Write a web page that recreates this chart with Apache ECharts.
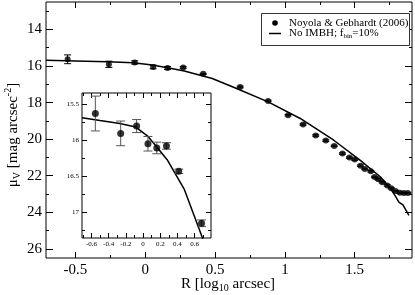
<!DOCTYPE html>
<html><head><meta charset="utf-8">
<script src="https://cdn.jsdelivr.net/npm/echarts@6/dist/echarts.min.js"></script>
<style>html,body{margin:0;padding:0;background:#fff}#c{width:415px;height:295px}</style>
</head><body><div id="c"></div>
<script>
// ---- data ----
const obsR   = [-0.555,-0.26,-0.075,0.057,0.16,0.272,0.415,0.68,0.88,1.023,1.13,1.221,1.293,1.353,1.412,1.462,1.5,1.541,1.572,1.615,1.642,1.668,1.697,1.733,1.761,1.792,1.823,1.852,1.88];
const obsMu  = [15.633,15.907,15.806,16.05,16.108,16.08,16.43,17.147,17.91,18.69,19.20,19.80,20.08,20.37,20.79,21.01,21.12,21.45,21.63,21.76,22.07,22.20,22.36,22.53,22.68,22.84,22.93,22.95,22.95];
const obsErr = [0.24,0.17,0.09,0.10,0.08,0.045,0.03,0.046,0.04,0.04,0.04,0.04,0.04,0.04,0.04,0.04,0.04,0.04,0.04,0.04,0.04,0.04,0.04,0.04,0.04,0.04,0.04,0.04,0.04];
const modelR  = [-0.71,-0.5,-0.27,-0.085,0.05,0.15,0.28,0.48,0.65,0.88,1.11,1.35,1.54,1.685,1.756,1.79,1.816,1.83,1.845,1.888];
const modelMu = [15.69,15.73,15.77,15.82,15.94,16.08,16.27,16.68,17.22,17.96,18.87,20.06,21.16,22.07,22.71,23.10,23.44,23.52,23.60,24.17];
const mainXTicks = [-0.5,0,0.5,1,1.5];
const mainXMinor = [-0.25,0.25,0.75,1.25,1.75];
const mainYTicks = [14,16,18,20,22,24,26];
const mainYMinor = [13,15,17,19,21,23,25];
const insetXTicks = [-0.6,-0.4,-0.2,0,0.2,0.4,0.6];
const insetXMinor = [-0.7,-0.5,-0.3,-0.1,0.1,0.3,0.5,0.7];
const insetYTicks = [15.5,16,16.5,17];
const insetYMinor = [15.75,16.25,16.75,17.25];

const SERIF = "'Liberation Serif','Times New Roman',serif";
const chart = echarts.init(document.getElementById('c'), null, {renderer:'canvas'});
const fmt = v => String(+(+v).toFixed(2));
const obsPts = obsR.map((r,i)=>[r,obsMu[i],obsErr[i]]);
const modelPts = modelR.map((r,i)=>[r,modelMu[i]]);

function ax(grid, pos, min, max, ticks, len, labels, fs, margin, zl, inverse){
  return {type:'value', gridIndex:grid, position:pos, min:min, max:max, inverse:!!inverse, zlevel:zl,
    axisLine:{show:false, onZero:false}, splitLine:{show:false},
    axisTick:{show:true, inside:true, length:len, customValues:ticks, lineStyle:{color:'#000',width:1}},
    axisLabel:{show:!!labels, customValues:ticks, formatter:fmt, color:'#000', fontFamily:SERIF, fontSize:fs, margin:margin}};
}
const xAxes = [
  ax(0,'bottom',-0.71,1.91,mainXTicks,6,true,15,5,0),
  ax(0,'bottom',-0.71,1.91,mainXMinor,3,false,15,5,0),
  ax(0,'top',-0.71,1.91,mainXTicks,6,false,15,5,0),
  ax(0,'top',-0.71,1.91,mainXMinor,3,false,15,5,0),
  ax(1,'bottom',-0.71,0.79,insetXTicks,5,true,7,3,1),
  ax(1,'bottom',-0.71,0.79,insetXMinor,3,false,7,3,1),
  ax(1,'top',-0.71,0.79,insetXTicks,5,false,7,3,1),
  ax(1,'top',-0.71,0.79,insetXMinor,3,false,7,3,1)
];
const yAxes = [
  ax(0,'left',12.5,26.5,mainYTicks,7,true,15,4,0,true),
  ax(0,'left',12.5,26.5,mainYMinor,3,false,15,4,0,true),
  ax(0,'right',12.5,26.5,mainYTicks,7,false,15,4,0,true),
  ax(0,'right',12.5,26.5,mainYMinor,3,false,15,4,0,true),
  ax(1,'left',15.35,17.35,insetYTicks,5,true,7,3,1,true),
  ax(1,'left',15.35,17.35,insetYMinor,3,false,7,3,1,true),
  ax(1,'right',15.35,17.35,insetYTicks,5,false,7,3,1,true),
  ax(1,'right',15.35,17.35,insetYMinor,3,false,7,3,1,true)
];

function errRender(capHalf, color){
  return function(params, api){
    const x = api.value(0), y = api.value(1), e = api.value(2);
    const t = api.coord([x, y - e]), b = api.coord([x, y + e]);
    const st = {stroke:color, lineWidth:1};
    return {type:'group', children:[
      {type:'line', shape:{x1:t[0],y1:t[1],x2:b[0],y2:b[1]}, style:st},
      {type:'line', shape:{x1:t[0]-capHalf,y1:t[1],x2:t[0]+capHalf,y2:t[1]}, style:st},
      {type:'line', shape:{x1:b[0]-capHalf,y1:b[1],x2:b[0]+capHalf,y2:b[1]}, style:st}
    ]};
  };
}

const option = {
  animation:false,
  backgroundColor:'#fff',
  grid:[
    {left:46, top:2, width:366, height:256, show:true, borderColor:'#000', borderWidth:1, backgroundColor:'transparent', zlevel:0},
    {left:82, top:93, width:129, height:145, show:true, borderColor:'#000', borderWidth:1, backgroundColor:'#fff', zlevel:1}
  ],
  xAxis:xAxes, yAxis:yAxes,
  series:[
    {type:'line', xAxisIndex:0, yAxisIndex:0, data:modelPts, showSymbol:false, lineStyle:{color:'#000',width:1.5}, zlevel:0, z:2},
    {type:'custom', xAxisIndex:0, yAxisIndex:0, data:obsPts, renderItem:errRender(3.5,'#000'), zlevel:0, z:3},
    {type:'scatter', xAxisIndex:0, yAxisIndex:0, data:obsPts, symbolSize:6, itemStyle:{color:'#000'}, zlevel:0, z:4},
    {type:'line', xAxisIndex:4, yAxisIndex:4, data:modelPts, showSymbol:false, lineStyle:{color:'#000',width:1.5}, zlevel:1, z:5, clip:true},
    {type:'custom', xAxisIndex:4, yAxisIndex:4, data:obsPts, renderItem:errRender(4.5,'#555'), zlevel:1, z:6, clip:true},
    {type:'scatter', xAxisIndex:4, yAxisIndex:4, data:obsPts, symbolSize:7, itemStyle:{color:'#000'}, zlevel:1, z:7, clip:true}
  ],
  graphic:[
    {type:'rect', shape:{x:261.5,y:13.5,width:148,height:32}, style:{fill:'#fff',stroke:'#333',lineWidth:1}, zlevel:2},
    {type:'circle', shape:{cx:275,cy:23,r:2.8}, style:{fill:'#000'}, zlevel:2},
    {type:'line', shape:{x1:269,y1:33.5,x2:281,y2:33.5}, style:{stroke:'#000',lineWidth:1.5}, zlevel:2},
    {type:'text', x:289, y:23, style:{text:'Noyola & Gebhardt (2006)', fontFamily:SERIF, fontSize:11, fill:'#000', verticalAlign:'middle'}, zlevel:2},
    {type:'text', x:289, y:33, style:{text:'No IMBH; f{s|bin}=10%', fontFamily:SERIF, fontSize:11, fill:'#000', verticalAlign:'middle',
       rich:{s:{fontFamily:SERIF, fontSize:7, verticalAlign:'bottom', padding:[6,0,0,0]}}}, zlevel:2},
    {type:'text', x:13, y:135, rotation:Math.PI/2, style:{text:'μ{s|V} [mag arcsec{p|-2}]', fontFamily:SERIF, fontSize:15, fill:'#000', align:'center', verticalAlign:'middle',
       rich:{s:{fontFamily:SERIF, fontSize:10, padding:[8,0,0,0]}, p:{fontFamily:SERIF, fontSize:10, padding:[0,0,10,0]}}}, zlevel:2},
    {type:'text', x:228, y:284, style:{text:'R [log{s|10} arcsec]', fontFamily:SERIF, fontSize:15, fill:'#000', align:'center', verticalAlign:'middle',
       rich:{s:{fontFamily:SERIF, fontSize:10, padding:[8,0,0,0]}}}, zlevel:2}
  ]
};
chart.setOption(option);
</script></body></html>
